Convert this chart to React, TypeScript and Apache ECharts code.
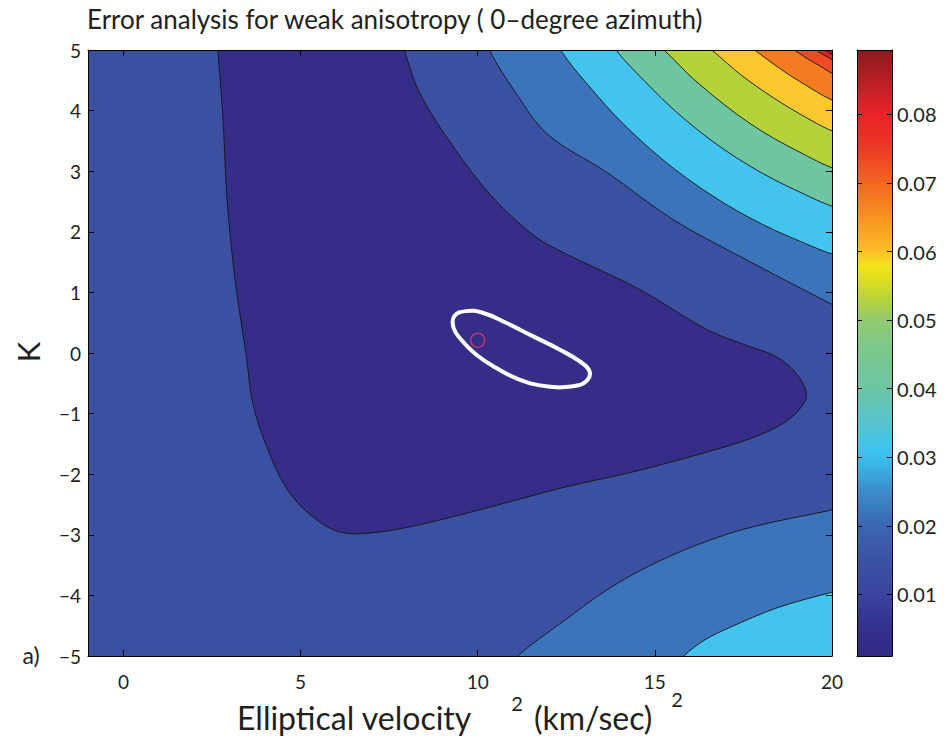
import React, { useEffect, useRef } from "react";
import * as echarts from "echarts";

const FONT = "Lato, 'Open Sans', 'DejaVu Sans', sans-serif";
const INK = "#231f20";

// ---- axes ----
const xRange = [-1, 20];
const yRange = [-5, 5];
const xTickStep = 5;
const yTickStep = 1;
const colorbarRange = [0.001, 0.0894];
const colorbarTickStep = 0.01;

// ---- contour boundaries, [x, y] in axis units ----
// lowest band (darkest region), closed outline
const lowestBand = [
  [2.63, 5.3], [2.666, 5.0], [2.811, 3.86], [2.924, 2.537], [3.15, 1.215],
  [3.461, -0.025], [3.659, -0.851], [4.055, -1.562], [4.592, -2.223], [5.27, -2.669],
  [6.087, -2.95], [7.02, -2.967], [8.349, -2.835], [10.385, -2.537], [12.392, -2.223],
  [14.399, -1.959], [16.407, -1.645], [17.764, -1.397], [18.697, -1.132], [19.234, -0.802],
  [19.234, -0.57], [18.838, -0.24], [18.301, -0.025], [17.679, 0.107], [16.463, 0.388],
  [14.569, 1.05], [11.968, 1.793], [11.205, 2.124], [10.272, 2.669], [9.339, 3.38],
  [8.378, 4.273], [7.926, 5.0], [7.78, 5.3],
];
// upper-right contours (higher levels towards the corner)
const upperLevel2 = [[10.19, 5.3], [10.33, 5.0], [11.04, 4.324], [11.97, 3.612], [13.64, 2.983], [15.5, 2.207], [17.4, 1.595], [20.0, 0.802], [20.51, 0.653]];
const upperLevel3 = [[12.081, 5.264], [13.438, 4.203], [14.852, 3.375], [16.265, 2.734], [17.679, 2.231], [19.093, 1.845], [20.365, 1.58]];
const upperLevel4 = [[13.617, 5.264], [14.851, 4.402], [16.265, 3.655], [17.679, 3.086], [19.093, 2.655], [20.365, 2.362]];
const upperLevel5 = [[14.902, 5.264], [15.558, 4.831], [16.265, 4.431], [17.679, 3.79], [19.093, 3.312], [20.365, 2.992]];
const upperLevel6 = [[16.18, 5.264], [16.831, 4.889], [17.679, 4.479], [19.093, 3.945], [20.365, 3.595]];
const upperLevel7 = [[17.303, 5.264], [17.962, 4.936], [19.093, 4.479], [20.365, 4.096]];
const upperLevel8 = [[18.323, 5.264], [19.093, 4.939], [19.659, 4.736], [20.365, 4.522]];
const upperLevel9 = [[18.858, 5.264], [19.516, 5.007], [19.941, 4.861], [20.365, 4.734]];
const upperLevel10 = [[19.101, 5.264], [19.8, 5.003], [20.365, 4.825]];
// lower-right contours
const lowerLevel2 = [[10.752, -5.264], [11.12, -5.0], [12.392, -4.438], [13.735, -3.876], [15.078, -3.446], [16.424, -3.116], [17.764, -2.868], [20.026, -2.587], [20.507, -2.521]];
const lowerLevel3 = [[15.417, -5.264], [15.813, -5.0], [16.407, -4.736], [17.085, -4.537], [18.442, -4.207], [20.026, -3.942], [20.507, -3.876]];
// white confidence contour and best-fit point
const confidenceContour = [
  [9.339, 0.608], [9.669, 0.691], [10.138, 0.664], [10.8, 0.499], [11.552, 0.278],
  [12.307, 0.058], [12.872, -0.136], [13.155, -0.301], [13.062, -0.466], [12.683, -0.549],
  [11.931, -0.549], [11.176, -0.438], [10.517, -0.245], [9.952, -0.025], [9.528, 0.223],
  [9.318, 0.417],
];
const bestFitPoint = [10.0, 0.21];

// ---- styles ----
const bandColors = [
  "#352d88", "#3c50a2", "#3b74bb", "#43c4ee", "#6ec6a1", "#b4d33b",
  "#fdc82e", "#f47b20", "#ef4a24", "#e42026", "#9c1b1f",
];
const colorbarStops = [
  [0, "#302b85"], [0.045, "#332f8c"], [0.102, "#3a45a0"], [0.158, "#3c52a5"],
  [0.215, "#3b66b1"], [0.271, "#3b8ccc"], [0.317, "#3ab6e8"], [0.339, "#3ec3ef"],
  [0.385, "#58c4cf"], [0.441, "#6cc5a3"], [0.509, "#7cc88a"], [0.554, "#92ca6e"],
  [0.588, "#b5d33c"], [0.622, "#e0df1f"], [0.645, "#f5e31b"], [0.667, "#fcbf2a"],
  [0.713, "#f89b1f"], [0.758, "#f47821"], [0.803, "#f05423"], [0.849, "#ec3325"],
  [0.894, "#e92328"], [0.939, "#c01f25"], [1, "#8c1a1d"],
];

const xo = xRange[1] + 1.5;
const yTop = yRange[1] + 0.8;
const yBot = yRange[0] - 0.8;
const closeUpper = (pts: number[][]) => [...pts, [xo, pts[pts.length - 1][1]], [xo, yTop], [pts[0][0], yTop]];
const closeLower = (pts: number[][]) => [...pts, [xo, pts[pts.length - 1][1]], [xo, yBot], [pts[0][0], yBot]];
const box = [[xRange[0], yRange[0]], [xRange[1], yRange[0]], [xRange[1], yRange[1]], [xRange[0], yRange[1]]];

type Region = { pts: number[][]; fill: string; smooth: number; line: boolean };
const regions: Region[] = [
  { pts: box, fill: bandColors[1], smooth: 0, line: false },
  { pts: lowestBand, fill: bandColors[0], smooth: 0.35, line: true },
  { pts: closeUpper(upperLevel2), fill: bandColors[2], smooth: 0.35, line: true },
  { pts: closeUpper(upperLevel3), fill: bandColors[3], smooth: 0.35, line: true },
  { pts: closeUpper(upperLevel4), fill: bandColors[4], smooth: 0.35, line: true },
  { pts: closeUpper(upperLevel5), fill: bandColors[5], smooth: 0.35, line: true },
  { pts: closeUpper(upperLevel6), fill: bandColors[6], smooth: 0.35, line: true },
  { pts: closeUpper(upperLevel7), fill: bandColors[7], smooth: 0.35, line: true },
  { pts: closeUpper(upperLevel8), fill: bandColors[8], smooth: 0.35, line: true },
  { pts: closeUpper(upperLevel9), fill: bandColors[9], smooth: 0.35, line: true },
  { pts: closeUpper(upperLevel10), fill: bandColors[10], smooth: 0.35, line: true },
  { pts: closeLower(lowerLevel2), fill: bandColors[2], smooth: 0.35, line: true },
  { pts: closeLower(lowerLevel3), fill: bandColors[3], smooth: 0.35, line: true },
];

const boxAxis = (extra: any) => ({
  type: "value",
  z: 10,
  splitLine: { show: false },
  axisLine: { show: true, onZero: false, lineStyle: { color: "#000", width: 1 } },
  axisTick: { show: true, inside: true, length: 6, lineStyle: { color: "#000", width: 1 } },
  axisLabel: { show: false },
  ...extra,
});

const labelStyle = { fontSize: 19, color: INK, fontFamily: FONT };
const minus = (v: number) => String(v).replace("-", "\u2212");

const option: any = {
  animation: false,
  backgroundColor: "#ffffff",
  textStyle: { fontFamily: FONT },
  grid: [
    { left: 88, top: 50, width: 744, height: 606, outerBoundsMode: "none" },
    { left: 857, top: 50, width: 35, height: 606, outerBoundsMode: "none" },
  ],
  xAxis: [
    boxAxis({
      gridIndex: 0, min: xRange[0], max: xRange[1], minInterval: xTickStep, maxInterval: xTickStep,
      position: "bottom",
      axisLabel: { show: true, showMinLabel: false, margin: 16, ...labelStyle },
    }),
    boxAxis({ gridIndex: 0, min: xRange[0], max: xRange[1], minInterval: xTickStep, maxInterval: xTickStep, position: "top" }),
    boxAxis({ gridIndex: 1, min: 0, max: 1, position: "bottom", axisTick: { show: false } }),
    boxAxis({ gridIndex: 1, min: 0, max: 1, position: "top", axisTick: { show: false } }),
  ],
  yAxis: [
    boxAxis({
      gridIndex: 0, min: yRange[0], max: yRange[1], interval: yTickStep, position: "left",
      axisLabel: { show: true, margin: 7, formatter: minus, ...labelStyle },
    }),
    boxAxis({ gridIndex: 0, min: yRange[0], max: yRange[1], interval: yTickStep, position: "right" }),
    boxAxis({
      gridIndex: 1, min: colorbarRange[0], max: colorbarRange[1], minInterval: colorbarTickStep, maxInterval: colorbarTickStep,
      position: "right",
      axisTick: { show: true, inside: true, length: 5, lineStyle: { color: "#000", width: 1 } },
      axisLabel: { show: true, showMinLabel: false, showMaxLabel: false, margin: 5, ...labelStyle, fontSize: 20 },
    }),
    boxAxis({
      gridIndex: 1, min: colorbarRange[0], max: colorbarRange[1], minInterval: colorbarTickStep, maxInterval: colorbarTickStep,
      position: "left",
      axisTick: { show: true, inside: true, length: 5, lineStyle: { color: "#000", width: 1 } },
    }),
  ],
  series: [
    {
      type: "custom",
      name: "bands",
      xAxisIndex: 0,
      yAxisIndex: 0,
      clip: true,
      silent: true,
      data: regions.map((_, i) => [i]),
      renderItem: (params: any, api: any) => {
        const r = regions[params.dataIndex];
        return {
          type: "polygon",
          shape: { points: r.pts.map((p) => api.coord(p)), smooth: r.smooth },
          style: { fill: r.fill, stroke: r.line ? "#151515" : null, lineWidth: r.line ? 0.9 : 0 },
        };
      },
    },
    {
      type: "custom",
      name: "confidence",
      xAxisIndex: 0,
      yAxisIndex: 0,
      clip: true,
      silent: true,
      data: [[0]],
      renderItem: (_params: any, api: any) => ({
        type: "polygon",
        shape: { points: confidenceContour.map((p) => api.coord(p)), smooth: 0.45 },
        style: { fill: null, stroke: "#ffffff", lineWidth: 4 },
      }),
    },
    {
      type: "scatter",
      name: "best fit",
      xAxisIndex: 0,
      yAxisIndex: 0,
      silent: true,
      symbol: "circle",
      symbolSize: 14,
      itemStyle: { color: "rgba(0,0,0,0)", borderColor: "#d2386a", borderWidth: 1.6 },
      data: [bestFitPoint],
      z: 5,
    },
    {
      type: "custom",
      name: "colorbar",
      xAxisIndex: 2,
      yAxisIndex: 2,
      silent: true,
      data: [[colorbarRange[0], colorbarRange[1]]],
      renderItem: (_params: any, api: any) => {
        const p0 = api.coord([0, api.value(0)]);
        const p1 = api.coord([1, api.value(1)]);
        return {
          type: "rect",
          shape: { x: p0[0], y: p1[1], width: p1[0] - p0[0], height: p0[1] - p1[1] },
          style: {
            fill: new echarts.graphic.LinearGradient(
              0, 1, 0, 0,
              colorbarStops.map(([o, c]) => ({ offset: o as number, color: c as string }))
            ),
          },
        };
      },
    },
  ],
  graphic: [
    {
      type: "text", x: 87, y: 19,
      style: { text: "Error analysis for weak anisotropy ( 0\u2013degree azimuth)", fontSize: 26, fontFamily: FONT, fill: INK, align: "left", verticalAlign: "middle" },
    },
    {
      type: "text", x: 28, y: 352, rotation: Math.PI / 2,
      style: { text: "K", fontSize: 31, fontFamily: FONT, fill: INK, align: "center", verticalAlign: "middle" },
    },
    {
      type: "text", x: 31, y: 655,
      style: { text: "a)", fontSize: 23, fontFamily: FONT, fill: INK, align: "center", verticalAlign: "middle" },
    },
    {
      type: "text", x: 237, y: 717,
      style: { text: "Elliptical velocity", fontSize: 32, fontFamily: FONT, fill: INK, align: "left", verticalAlign: "middle" },
    },
    {
      type: "text", x: 517, y: 703,
      style: { text: "2", fontSize: 20, fontFamily: FONT, fill: INK, align: "center", verticalAlign: "middle" },
    },
    {
      type: "text", x: 534, y: 717,
      style: { text: "(km/sec)", fontSize: 32, fontFamily: FONT, fill: INK, align: "left", verticalAlign: "middle" },
    },
    {
      type: "text", x: 677, y: 699,
      style: { text: "2", fontSize: 20, fontFamily: FONT, fill: INK, align: "center", verticalAlign: "middle" },
    },
  ],
};

export default function App() {
  const ref = useRef<HTMLDivElement>(null);
  useEffect(() => {
    if (!ref.current) return;
    const chart = echarts.init(ref.current, null, { renderer: "svg" });
    chart.setOption(option);
    return () => chart.dispose();
  }, []);
  return <div ref={ref} style={{ position: "fixed", left: 0, top: 0, width: 946, height: 742 }} />;
}
